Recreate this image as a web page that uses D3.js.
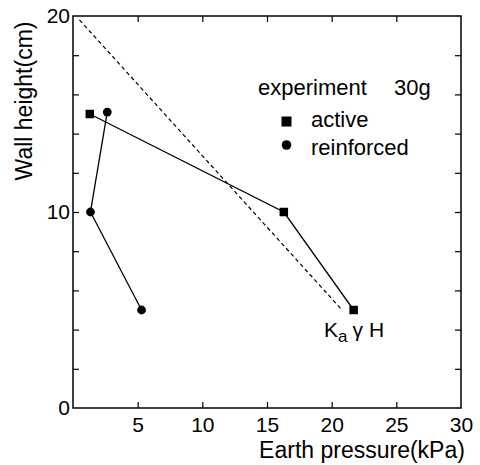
<!DOCTYPE html>
<html>
<head>
<meta charset="utf-8">
<script src="https://cdn.jsdelivr.net/npm/d3@7"></script>
<style>
  body { margin: 0; background: #fff; }
  svg { display: block; font-family: "Liberation Sans", Arial, Helvetica, sans-serif; }
</style>
</head>
<body>
<div id="chart"></div>
<script>
// data (x: earth pressure kPa, y: wall height cm)
const activeX = [1.3, 16.3, 21.7];
const activeY = [15, 10, 5];
const reinforcedX = [2.65, 1.35, 5.3];
const reinforcedY = [15.1, 10, 5];
// K_a gamma H reference line (dashed)
const kaX = [0.5, 20.8];
const kaY = [19.8, 5];

const xTicks = [5, 10, 15, 20, 25, 30];
const yTicks = [0, 2, 4, 6, 8, 10, 12, 14, 16, 18, 20];
const yLabels = [0, 10, 20];

const width = 480, height = 465;
const margins = {top: 16, right: 19, bottom: 57, left: 73};

const svg = d3.select("#chart").append("svg")
  .attr("width", width)
  .attr("height", height);

svg.append("rect").attr("width", width).attr("height", height).attr("fill", "#fff");

const x = d3.scaleLinear().domain([0, 30]).range([margins.left, width - margins.right]);
const y = d3.scaleLinear().domain([0, 20]).range([height - margins.bottom, margins.top]);

// frame
svg.append("rect")
  .attr("x", x(0)).attr("y", y(20))
  .attr("width", x(30) - x(0)).attr("height", y(0) - y(20))
  .attr("fill", "none").attr("stroke", "#000").attr("stroke-width", 1.5);

const tickLen = -6;
function styleAxis(g) {
  g.select(".domain").remove();
  g.selectAll(".tick line").attr("stroke", "#000").attr("stroke-width", 1.2);
  g.selectAll(".tick text").attr("fill", "#000").style("font-size", "21px");
}

// bottom axis
svg.append("g")
  .attr("transform", `translate(0,${y(0)})`)
  .call(d3.axisBottom(x).tickValues(xTicks).tickSizeInner(tickLen).tickSizeOuter(0).tickPadding(9).tickFormat(d3.format("d")))
  .call(styleAxis)
  .call(g => g.selectAll(".tick").filter(d => d === 30).select("line").remove());

// top axis (ticks only)
svg.append("g")
  .attr("transform", `translate(0,${y(20)})`)
  .call(d3.axisTop(x).tickValues(xTicks.filter(d => d < 30)).tickSizeInner(tickLen).tickSizeOuter(0).tickFormat(""))
  .call(styleAxis);

// left axis
svg.append("g")
  .attr("transform", `translate(${x(0)},0)`)
  .call(d3.axisLeft(y).tickValues(yTicks).tickSizeInner(tickLen).tickSizeOuter(0).tickPadding(3)
    .tickFormat(d => yLabels.includes(d) ? d : ""))
  .call(styleAxis)
  .call(g => g.selectAll(".tick").filter(d => d === 0 || d === 20).select("line").remove());

// right axis (ticks only)
svg.append("g")
  .attr("transform", `translate(${x(30)},0)`)
  .call(d3.axisRight(y).tickValues(yTicks.filter(d => d > 0 && d < 20)).tickSizeInner(tickLen).tickSizeOuter(0).tickFormat(""))
  .call(styleAxis);

// axis titles
svg.append("text")
  .attr("x", 362).attr("y", 458)
  .attr("text-anchor", "middle")
  .style("font-size", "23px")
  .text("Earth pressure(kPa)");

svg.append("text")
  .attr("transform", "translate(32,101) rotate(-90)")
  .attr("text-anchor", "middle")
  .style("font-size", "23px")
  .text("Wall height(cm)");

const line = d3.line().x(d => x(d[0])).y(d => y(d[1]));

// K_a gamma H dashed line
svg.append("path")
  .datum(d3.zip(kaX, kaY))
  .attr("d", line)
  .attr("fill", "none").attr("stroke", "#000").attr("stroke-width", 1.2)
  .attr("stroke-dasharray", "4,3");

// series lines
const active = d3.zip(activeX, activeY);
const reinforced = d3.zip(reinforcedX, reinforcedY);

svg.append("path").datum(active).attr("d", line)
  .attr("fill", "none").attr("stroke", "#000").attr("stroke-width", 1.3);
svg.append("path").datum(reinforced).attr("d", line)
  .attr("fill", "none").attr("stroke", "#000").attr("stroke-width", 1.3);

// markers
const sq = 8.5;
svg.selectAll("rect.active").data(active).enter().append("rect")
  .attr("class", "active")
  .attr("x", d => x(d[0]) - sq / 2).attr("y", d => y(d[1]) - sq / 2)
  .attr("width", sq).attr("height", sq).attr("fill", "#000");

svg.selectAll("circle.reinforced").data(reinforced).enter().append("circle")
  .attr("class", "reinforced")
  .attr("cx", d => x(d[0])).attr("cy", d => y(d[1]))
  .attr("r", 4.4).attr("fill", "#000");

// legend
const legend = svg.append("g").style("font-size", "22px");
legend.append("text").attr("x", 258).attr("y", 95).text("experiment");
legend.append("text").attr("x", 394).attr("y", 95).text("30g");
legend.append("rect").attr("x", 281.5).attr("y", 116.5).attr("width", 10).attr("height", 10).attr("fill", "#000");
legend.append("text").attr("x", 311).attr("y", 127).text("active");
legend.append("circle").attr("cx", 286.5).attr("cy", 145).attr("r", 4.8).attr("fill", "#000");
legend.append("text").attr("x", 311).attr("y", 155).text("reinforced");

// K_a gamma H label
const ka = svg.append("text").attr("x", 324).attr("y", 337).style("font-size", "21px");
ka.append("tspan").text("K");
ka.append("tspan").attr("dy", 5).style("font-size", "17px").text("a");
ka.append("tspan").attr("dy", -5).attr("dx", 5).text("γ");
ka.append("tspan").attr("dx", 6).text("H");
</script>
</body>
</html>
